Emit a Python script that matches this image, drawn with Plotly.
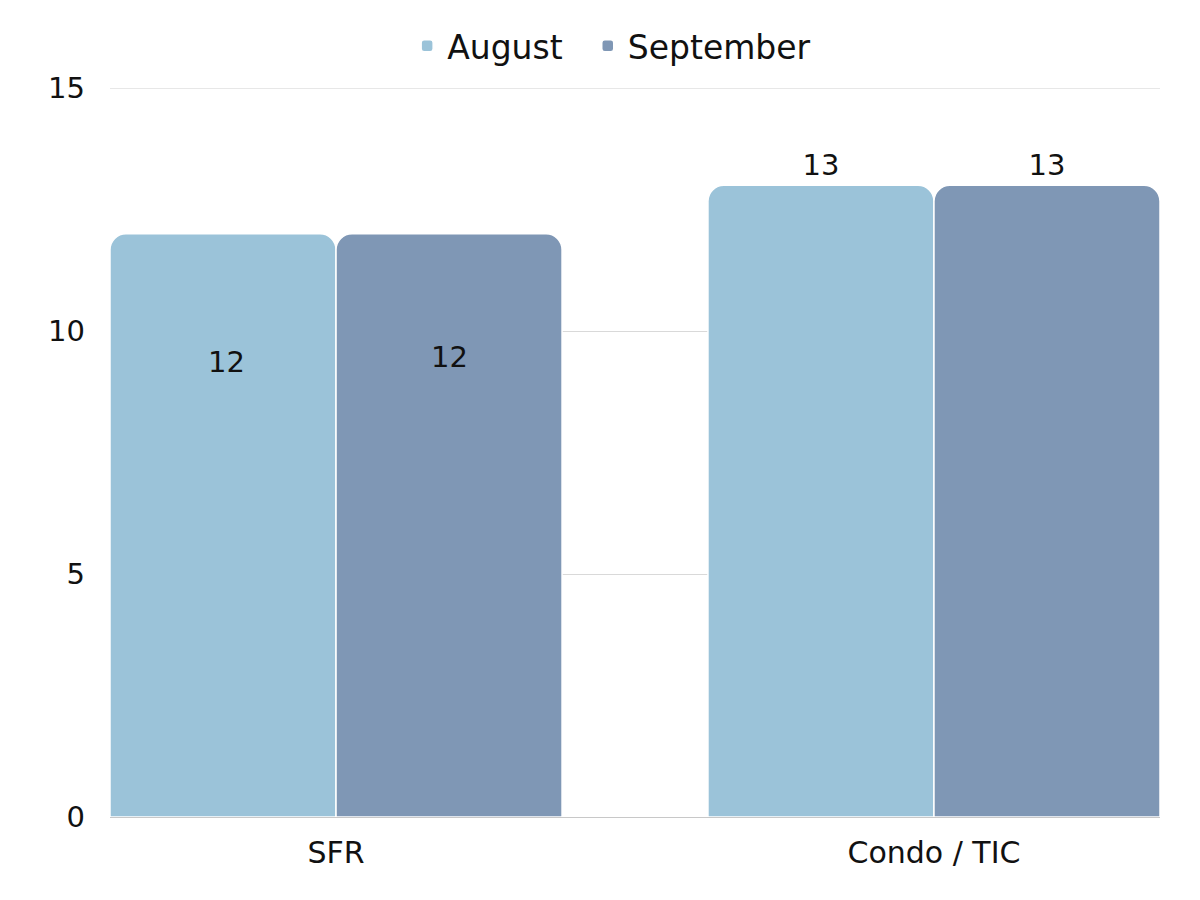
import plotly.graph_objects as go

categories = ["SFR", "Condo / TIC"]
august = [12, 13]
september = [12, 13]
series_names = ["August", "September"]
colors = ["#9BC3D9", "#7F97B5"]
y_ticks = [0, 5, 10, 15]

font_family = "DejaVu Sans, sans-serif"
text_color = "#111111"

fig = go.Figure()
for name, vals, col, lg in zip(series_names, [august, september], colors, ["legend", "legend2"]):
    fig.add_trace(go.Bar(
        name=name, x=categories, y=vals, legend=lg, showlegend=True,
        marker=dict(color=col, line=dict(color="white", width=1.5)),
        text=[str(v) if i == 1 else "" for i, v in enumerate(vals)],
        textposition="outside",
        textfont=dict(size=29, color=text_color, family=font_family),
        cliponaxis=False,
    ))

# SFR labels sit inside the bars, below the top
shifts = [-128, -123]
for k, (vals, sh) in enumerate(zip([august, september], shifts)):
    fig.add_annotation(
        x=categories[0], y=vals[0], xref="x", yref="y",
        text=str(vals[0]), showarrow=False,
        xshift=(-110 if k == 0 else 113), yshift=sh,
        font=dict(size=29, color=text_color, family=font_family),
    )

# top gridline (plotly hides the gridline lying on the range edge)
fig.add_shape(type="line", xref="paper", yref="y", x0=0, x1=1,
              y0=y_ticks[-1], y1=y_ticks[-1], line=dict(color="#D0D0D0", width=1),
              layer="below")

legend_style = dict(orientation="h", y=1.058, yanchor="middle", xanchor="left",
                    font=dict(size=33, color=text_color), bgcolor="rgba(0,0,0,0)")
fig.update_layout(
    width=1192, height=892, showlegend=True,
    paper_bgcolor="white", plot_bgcolor="white",
    barmode="group", bargap=0.244, bargroupgap=0.0,
    barcornerradius=16,
    margin=dict(l=102, r=40, t=80, b=83, autoexpand=False),
    font=dict(family=font_family, color=text_color, size=29),
    legend=dict(x=0.283, **legend_style),
    legend2=dict(x=0.455, **legend_style),
)
fig.update_yaxes(range=[0, 15], tickvals=y_ticks, showgrid=True, gridcolor="#D9D9D9",
                 gridwidth=1, zeroline=True, zerolinecolor="#C8C8C8", zerolinewidth=1,
                 tickfont=dict(size=29, color=text_color), ticklabelstandoff=24,
                 showline=False, automargin=False)
fig.update_xaxes(range=[-0.378, 1.378], tickfont=dict(size=30, color=text_color),
                 showline=True, linecolor="#C8C8C8", linewidth=1,
                 ticklabelstandoff=9, automargin=False)

fig.write_html("out.html")
